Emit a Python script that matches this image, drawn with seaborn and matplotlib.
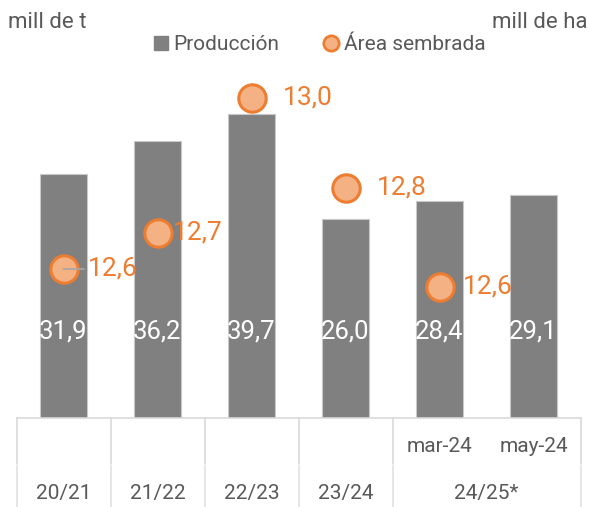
import numpy as np
import pandas as pd
import matplotlib
matplotlib.use("Agg")
import matplotlib.pyplot as plt
import matplotlib.transforms as mtransforms
from matplotlib.lines import Line2D
import seaborn as sns

# ---- data ----
categories = ["20/21", "21/22", "22/23", "23/24", "mar-24", "may-24"]
inner_labels = ["", "", "", "", "mar-24", "may-24"]
group_labels = ["20/21", "21/22", "22/23", "23/24", "24/25*"]
group_sizes = [1, 1, 1, 1, 2]
produccion = [31.9, 36.2, 39.7, 26.0, 28.4, 29.1]
area = [12.62, 12.70, 13.00, 12.80, 12.58]

# ---- style ----
sns.set_theme(style="white")
plt.rcParams["font.family"] = ["Roboto", "DejaVu Sans"]
GRAY = "#808080"
ORANGE = "#ED7D31"
ORANGE_FILL = "#F4B183"
TXT = "#595959"
LINE = "#D9D9D9"

W, H = 589, 507
fig = plt.figure(figsize=(W / 100, H / 100), dpi=100)
left_px, right_px, top_px, base_px = 16.5, 580.5, 73, 418
ax = fig.add_axes([left_px / W, (H - base_px) / H, (right_px - left_px) / W, (base_px - top_px) / H])

df = pd.DataFrame({"cat": categories, "prod": produccion})
sns.barplot(data=df, x="cat", y="prod", order=categories, color=GRAY, saturation=1,
            width=0.5, edgecolor="#C8C8C8", linewidth=0.8, ax=ax, zorder=2)
ax.set_xlim(-0.5, len(categories) - 0.5)
ax.set_ylim(0, (base_px - top_px) / 7.65)
ax.set_xlabel("")
ax.set_ylabel("")
ax.set_xticks([])
ax.set_yticks([])
for s in ["top", "left", "right"]:
    ax.spines[s].set_visible(False)
ax.spines["bottom"].set_color(LINE)
ax.spines["bottom"].set_linewidth(1.2)

# bar value labels (white, near lower part of bars)
label_y = (base_px - 332) / 7.65
for i, v in enumerate(produccion):
    ax.text(i, label_y, f"{v:.1f}".replace(".", ","), color="white", fontsize=18.5,
            ha="center", va="center", zorder=3)

# secondary axis: area
ax2 = ax.twinx()
ax2.set_position(ax.get_position())
scale = 450.0
ref_y = 98
ax2.set_ylim(13.0 - (base_px - ref_y) / scale, 13.0 + (ref_y - top_px) / scale)
dfa = pd.DataFrame({"x": np.arange(len(area)), "area": area})
sns.scatterplot(data=dfa, x="x", y="area", ax=ax2, s=390, color=ORANGE_FILL,
                edgecolor=ORANGE, linewidth=2.2, zorder=4, legend=False)
ax2.set_xlim(-0.5, len(categories) - 0.5)
ax2.set_yticks([])
ax2.set_xlabel("")
ax2.set_ylabel("")
for s in ["top", "left", "right", "bottom"]:
    ax2.spines[s].set_visible(False)

label_offsets = [24, 15, 31, 31, 23]
for i, v in enumerate(area):
    kw = {}
    if i == 0:
        kw["arrowprops"] = dict(arrowstyle="-", color="#A6A6A6", lw=1.2,
                                shrinkA=0, shrinkB=0)
    ax2.annotate(f"{v:.1f}".replace(".", ","), xy=(i, v),
                 xytext=(label_offsets[i], 0), textcoords="offset pixels",
                 color=ORANGE, fontsize=19, ha="left", va="center", zorder=5, **kw)

# ---- two-level category axis ----
tr = mtransforms.blended_transform_factory(ax.transData, ax.transAxes)
ah = base_px - top_px
def yfr(px):
    return -(px - base_px) / ah

y_inner = yfr(447)
y_outer = yfr(493)
y_break = yfr(465)
y_bot = yfr(507)
for i, lab in enumerate(inner_labels):
    if lab:
        ax.text(i, y_inner, lab, transform=tr, ha="center", va="center",
                fontsize=15, color=TXT, clip_on=False)
start = 0
bounds = [-0.5]
for lab, n in zip(group_labels, group_sizes):
    center = start + (n - 1) / 2
    ax.text(center, y_outer, lab, transform=tr, ha="center", va="center",
            fontsize=15, color=TXT, clip_on=False)
    start += n
    bounds.append(start - 0.5)
for b in bounds:
    ax.add_line(Line2D([b, b], [0, y_break + 0.0015], transform=tr, color=LINE,
                       lw=1.2, clip_on=False))
    ax.add_line(Line2D([b, b], [y_break - 0.0015, y_bot], transform=tr, color="#E2E2E2",
                       lw=1.2, clip_on=False))

# ---- titles / units ----
fig.text(8 / W, 1 - 22 / H, "mill de t", fontsize=16, color=TXT, ha="left", va="center")
fig.text(1 - 2 / W, 1 - 22 / H, "mill de ha", fontsize=16, color=TXT, ha="right", va="center")

handles = [
    Line2D([], [], marker="s", linestyle="", color=GRAY, markersize=10),
    Line2D([], [], marker="o", linestyle="", markerfacecolor=ORANGE_FILL,
           markeredgecolor=ORANGE, markeredgewidth=2, markersize=11),
]
leg = fig.legend(handles, ["Producción", "Área sembrada"], loc="center",
                 bbox_to_anchor=(318 / W, 1 - 45 / H), ncol=2, frameon=False,
                 fontsize=15, handletextpad=0.1, columnspacing=2.0,
                 handlelength=1.0)
for t in leg.get_texts():
    t.set_color(TXT)

fig.savefig("out.png", dpi=100)
